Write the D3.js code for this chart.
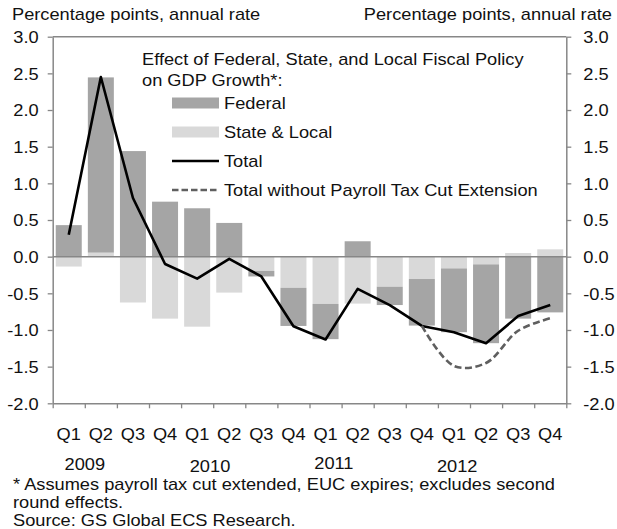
<!DOCTYPE html>
<html>
<head>
<meta charset="utf-8">
<script src="https://cdn.jsdelivr.net/npm/d3@7"></script>
<style>
  html, body { margin: 0; padding: 0; background: #fff; }
  svg { display: block; }
  text { font-family: "Liberation Sans", Arial, sans-serif; font-size: 16px; fill: #111; }
</style>
</head>
<body>
<svg id="chart" width="617" height="529"></svg>
<script>
// ---- data ----
const quarters = ["Q1","Q2","Q3","Q4","Q1","Q2","Q3","Q4","Q1","Q2","Q3","Q4","Q1","Q2","Q3","Q4"];
const years = ["2009","2010","2011","2012"];
const federal    = [0.43, 2.39, 1.44, 0.75, 0.66, 0.46, -0.075, -0.52, -0.48, 0.21, -0.25, -0.635, -0.87, -1.075, -0.845, -0.76];
const stateLocal = [-0.135, 0.055, -0.625, -0.845, -0.955, -0.49, -0.195, -0.425, -0.645, -0.64, -0.41, -0.305, -0.16, -0.105, 0.05, 0.10];
const total      = [0.30, 2.45, 0.80, -0.10, -0.30, -0.03, -0.27, -0.95, -1.13, -0.44, -0.66, -0.945, -1.03, -1.18, -0.81, -0.66];
const totalNoExt = [null, null, null, null, null, null, null, null, null, null, null, -0.945, -1.49, -1.45, -1.01, -0.84];
const yTicks = [3.0, 2.5, 2.0, 1.5, 1.0, 0.5, 0.0, -0.5, -1.0, -1.5, -2.0];
const axisTitle = "Percentage points, annual rate";
const legendTitle = ["Effect of Federal, State, and Local Fiscal Policy", "on GDP Growth*:"];
const legendLabels = ["Federal", "State & Local", "Total", "Total without Payroll Tax Cut Extension"];
const footnotes = ["* Assumes payroll tax cut extended, EUC expires; excludes second", "round effects.", "Source: GS Global ECS Research."];

// ---- layout ----
const SX = 1.14;           // horizontal stretch of the original's text
const X0 = 52.7, X1 = 566.3, YT = 36.7, YB = 403.3;
const C_FED = "#a5a5a5", C_SL = "#d9d9d9", C_AX = "#878787", C_DASH = "#5f5f5f";

const svg = d3.select("#chart");
const idx = d3.range(quarters.length);
const x = d3.scaleBand().domain(idx).range([X0, X1]).paddingInner(0.19).paddingOuter(0.095);
const xEdge = d3.scaleLinear().domain([0, quarters.length]).range([X0, X1]);
const y = d3.scaleLinear().domain([-2, 3]).range([YB, YT]);
const cx = i => x(i) + x.bandwidth() / 2;

function stext(g, px, py, str, anchor) {
  return g.append("text")
    .attr("transform", `translate(${px},${py}) scale(${SX},1)`)
    .attr("text-anchor", anchor || "start")
    .text(str);
}

// ---- bars ----
const rows = idx.map(i => ({ stateLocal: stateLocal[i], federal: federal[i] }));
const series = d3.stack().keys(["stateLocal", "federal"]).offset(d3.stackOffsetDiverging)(rows);
const colors = { stateLocal: C_SL, federal: C_FED };
svg.append("g").selectAll("g").data(series).join("g")
  .attr("fill", s => colors[s.key])
  .selectAll("rect").data(s => s.map((d, i) => ({ d, i }))).join("rect")
  .attr("x", o => x(o.i))
  .attr("width", x.bandwidth())
  .attr("y", o => y(Math.max(o.d[0], o.d[1])))
  .attr("height", o => Math.abs(y(o.d[0]) - y(o.d[1])));

// ---- frame / axes ----
const frame = svg.append("g").attr("stroke", C_AX).attr("stroke-width", 1.5).attr("fill", "none");
frame.append("line").attr("x1", X0).attr("x2", X1).attr("y1", y(3)).attr("y2", y(3));
frame.append("line").attr("x1", X0).attr("x2", X1).attr("y1", y(0)).attr("y2", y(0));

const leftAx = svg.append("g").attr("transform", `translate(${X0},0)`)
  .call(d3.axisLeft(y).tickValues(yTicks).tickSize(5).tickSizeOuter(0).tickFormat(d => d.toFixed(1)));
const rightAx = svg.append("g").attr("transform", `translate(${X1},0)`)
  .call(d3.axisRight(y).tickValues(yTicks).tickSize(5).tickSizeOuter(0).tickFormat(d => d.toFixed(1)));
const bottomAx = svg.append("g").attr("transform", `translate(0,${YB})`)
  .call(d3.axisBottom(xEdge).tickValues(d3.range(quarters.length + 1)).tickSize(5).tickSizeOuter(0).tickFormat(""));
[leftAx, rightAx, bottomAx].forEach(a => {
  a.select(".domain").attr("stroke", C_AX).attr("stroke-width", 1.5);
  a.selectAll(".tick line").attr("stroke", C_AX).attr("stroke-width", 1.3);
  a.selectAll(".tick text").attr("font-family", null).attr("font-size", null).attr("fill", "#111");
});
leftAx.selectAll(".tick text").attr("x", null).attr("dy", "0.36em")
  .attr("transform", `translate(-14,0) scale(${SX},1)`).attr("text-anchor", "end");
rightAx.selectAll(".tick text").attr("x", null).attr("dy", "0.36em")
  .attr("transform", `translate(17,0) scale(${SX},1)`).attr("text-anchor", "start");

// ---- lines ----
const lineTotal = d3.line().x((d, i) => cx(i)).y(d => y(d));
svg.append("path").datum(total)
  .attr("fill", "none").attr("stroke", "#000").attr("stroke-width", 2.6).attr("stroke-linejoin", "round")
  .attr("d", lineTotal);
const noExtPts = idx.filter(i => totalNoExt[i] !== null).map(i => [cx(i), y(totalNoExt[i])]);
svg.append("path").datum(noExtPts)
  .attr("fill", "none").attr("stroke", C_DASH).attr("stroke-width", 2.6).attr("stroke-dasharray", "7,3.5")
  .attr("d", d3.line().curve(d3.curveCatmullRom.alpha(0.5)));

// ---- text ----
const tg = svg.append("g");
stext(tg, 12, 20, axisTitle, "start");
stext(tg, 612, 20, axisTitle, "end");

quarters.forEach((q, i) => stext(tg, cx(i), 440, q, "middle"));
const yearPos = [1.0, 4.9, 8.76, 12.6];          // label centres in quarter units (as in original)
const yearBase = [470, 472, 469, 472];
years.forEach((yr, k) => stext(tg, xEdge(yearPos[k]), yearBase[k], yr, "middle"));

footnotes.forEach((f, k) => stext(tg, 13, 490 + k * 18, f, "start"));

// ---- legend ----
stext(tg, 142, 65, legendTitle[0], "start");
stext(tg, 142, 86, legendTitle[1], "start");
const lg = svg.append("g");
const LX0 = 172, LX1 = 219, LT = 224, LY = [103, 132, 161, 190];
lg.append("rect").attr("x", LX0).attr("y", LY[0] - 5.5).attr("width", LX1 - LX0).attr("height", 11).attr("fill", C_FED);
lg.append("rect").attr("x", LX0).attr("y", LY[1] - 5.5).attr("width", LX1 - LX0).attr("height", 11).attr("fill", C_SL);
lg.append("line").attr("x1", LX0).attr("x2", LX1).attr("y1", LY[2]).attr("y2", LY[2]).attr("stroke", "#000").attr("stroke-width", 2.6);
lg.append("line").attr("x1", LX0).attr("x2", LX1).attr("y1", LY[3]).attr("y2", LY[3]).attr("stroke", C_DASH).attr("stroke-width", 2.6).attr("stroke-dasharray", "6.5,3");
legendLabels.forEach((l, k) => stext(tg, LT, LY[k] + 5.8, l, "start"));
</script>
</body>
</html>
